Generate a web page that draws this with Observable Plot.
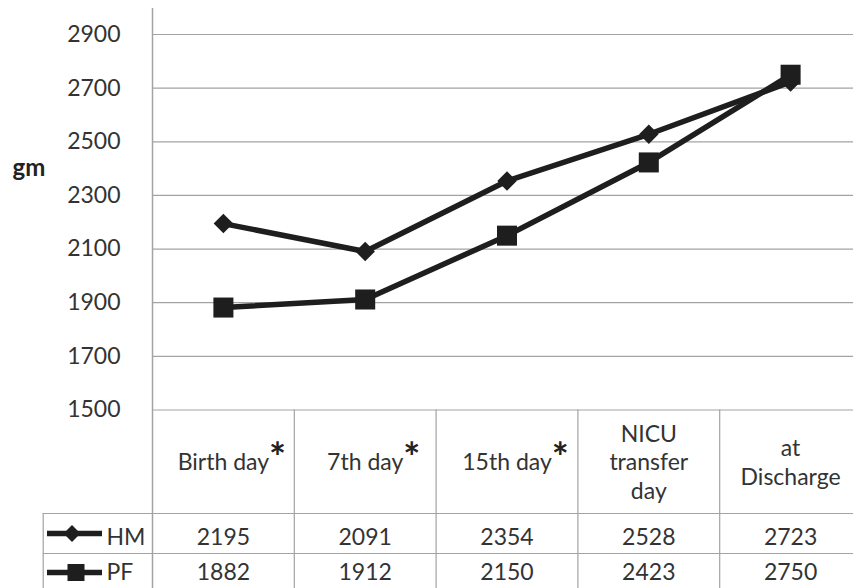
<!DOCTYPE html>
<html>
<head>
<meta charset="utf-8">
<script src="https://cdn.jsdelivr.net/npm/d3@7"></script>
<script src="https://cdn.jsdelivr.net/npm/@observablehq/plot@0.6"></script>
<style>
  html, body { margin: 0; padding: 0; background: #fff; }
</style>
</head>
<body>
<div id="chart"></div>
<script>
// Weight (gm) by time point, human milk (HM) vs preterm formula (PF)
const categories = ["Birth day", "7th day", "15th day", "NICU\ntransfer\nday", "at\nDischarge"];
const starred = [true, true, true, false, false];
const hmValues = [2195, 2091, 2354, 2528, 2723];
const pfValues = [1882, 1912, 2150, 2423, 2750];
const yTicks = [1500, 1700, 1900, 2100, 2300, 2500, 2700, 2900];

const W = 853, H = 588;
const FONT = "Lato, 'Open Sans', sans-serif";
const FS = 23;
const INK = "#1e1e1e";
const GRID = "#a3a3a3";
const TEXT = "#333";

const xRange = [152, 861];
const colW = (xRange[1] - xRange[0]) / categories.length;
const marginTop = 8, marginBottom = 178.5, marginLeft = 152;
const tableDepth = marginBottom; // table area below the value axis
const headerH = 103.5, rowH = 40;

const hm = hmValues.map((v, i) => ({i, v}));
const pf = pfValues.map((v, i) => ({i, v}));

// measure header labels so the asterisk sits right after the text
const ctx = document.createElement("canvas").getContext("2d");
ctx.font = `${FS}px ${FONT}`;
const stars = categories
  .map((c, i) => ({c, i}))
  .filter(d => starred[d.i])
  .map(d => ({i: d.i, x: d.i + (ctx.measureText(d.c).width / 2) / colW}));

const chart = Plot.plot({
  width: W,
  height: H,
  marginTop,
  marginBottom,
  marginLeft,
  marginRight: 0,
  style: {fontFamily: FONT, fontSize: `${FS}px`, color: TEXT, background: "#fff"},
  x: {domain: [-0.5, categories.length - 0.5], range: xRange, axis: null},
  y: {domain: [1500, 2900], range: [409.5, 34], ticks: yTicks, tickSize: 0, tickPadding: 32, label: null, tickFormat: d => String(d)},
  marks: [
    // gridlines (1500 doubles as the table's top edge)
    Plot.ruleY(yTicks, {stroke: GRID, strokeWidth: 1.2}),
    // value axis line, continuing down as the table's left edge
    Plot.ruleX([-0.5], {stroke: GRID, strokeWidth: 1.5, insetBottom: -tableDepth}),
    // table column dividers
    Plot.ruleX(d3.range(0.5, categories.length - 0.5, 1), {y1: 1500, y2: 1500, stroke: GRID, strokeWidth: 1.2, insetBottom: -tableDepth}),
    // table row dividers, extended left under the legend column
    Plot.ruleY([1500], {dy: headerH, stroke: GRID, strokeWidth: 1.2, insetLeft: -109.3}),
    Plot.ruleY([1500], {dy: headerH + rowH, stroke: GRID, strokeWidth: 1.2, insetLeft: -109.3}),
    // legend column left edge
    Plot.ruleX([-0.5], {y1: 1500, y2: 1500, dx: -109.3, insetTop: headerH, insetBottom: -tableDepth, stroke: GRID, strokeWidth: 1.2}),

    // series lines and markers
    Plot.line(hm, {x: "i", y: "v", stroke: INK, strokeWidth: 5.5}),
    Plot.line(pf, {x: "i", y: "v", stroke: INK, strokeWidth: 5.5}),
    Plot.dot(hm, {x: "i", y: "v", symbol: "diamond2", r: 8.8, fill: INK, stroke: "none"}),
    Plot.dot(pf, {x: "i", y: "v", symbol: "square", r: 11.3, fill: INK, stroke: "none"}),

    // axis title
    Plot.text(["gm"], {frameAnchor: "top-left", dx: -140, dy: 160, textAnchor: "start", lineAnchor: "middle", fontWeight: "bold", fill: "#222", fontSize: 24}),

    // table header
    Plot.text(categories, {x: (d, i) => i, y: () => 1500, dy: 51.5, text: d => d, lineAnchor: "middle", lineHeight: 1.22, fill: TEXT}),
    Plot.text(stars, {x: "x", y: () => 1500, dy: 49, text: () => "*", textAnchor: "start", lineAnchor: "middle", fontSize: 40, fontWeight: "bold", fill: "#222"}),

    // table values
    Plot.text(hm, {x: "i", y: () => 1500, dy: headerH + 24, text: d => String(d.v), lineAnchor: "middle", fill: TEXT}),
    Plot.text(pf, {x: "i", y: () => 1500, dy: headerH + rowH + 19.5, text: d => String(d.v), lineAnchor: "middle", fill: TEXT}),

    // legend keys in the table's first column
    Plot.ruleY([1500], {dy: headerH + 20, insetLeft: -105, insetRight: W - 102, stroke: INK, strokeWidth: 5.5}),
    Plot.dot([0], {x: () => -0.5, y: () => 1500, dx: -80.5, dy: headerH + 20, symbol: "diamond2", r: 7.6, fill: INK, stroke: "none"}),
    Plot.text(["HM"], {x: () => -0.5, y: () => 1500, dx: -46, dy: headerH + 24, textAnchor: "start", lineAnchor: "middle", fill: TEXT}),
    Plot.ruleY([1500], {dy: headerH + rowH + 19, insetLeft: -105, insetRight: W - 102, stroke: INK, strokeWidth: 5.5}),
    Plot.dot([0], {x: () => -0.5, y: () => 1500, dx: -76.5, dy: headerH + rowH + 19, symbol: "square", r: 9.6, fill: INK, stroke: "none"}),
    Plot.text(["PF"], {x: () => -0.5, y: () => 1500, dx: -46, dy: headerH + rowH + 19.5, textAnchor: "start", lineAnchor: "middle", fill: TEXT})
  ]
});

document.getElementById("chart").appendChild(chart);
</script>
</body>
</html>
